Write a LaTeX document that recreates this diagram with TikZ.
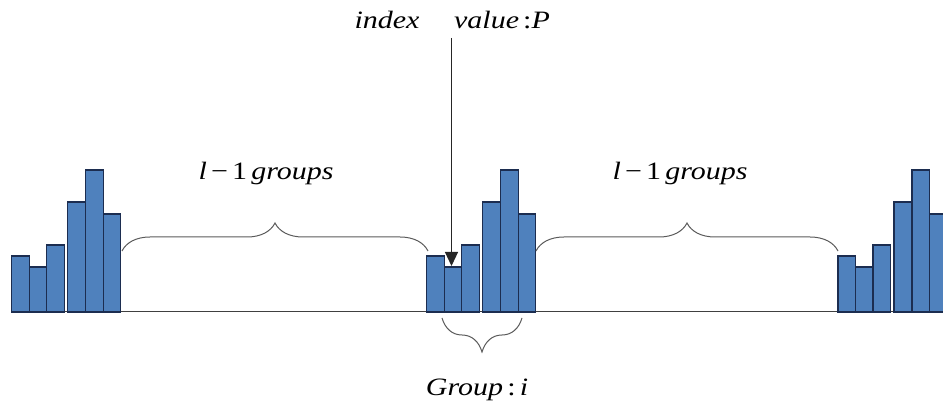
\documentclass[tikz,border=0pt]{standalone}
\usepackage{fontspec}
\setmainfont{Liberation Serif}[FakeStretch=1.2]
\usetikzlibrary{decorations.pathreplacing,arrows.meta}
\definecolor{barfill}{RGB}{79,129,189}
\definecolor{barline}{RGB}{28,45,80}
\definecolor{bracec}{RGB}{90,90,90}
\tikzset{
  bar/.style={fill=barfill,draw=barline,line width=1.1pt},
  bracestyle/.style={draw=bracec,line width=1pt,decorate,decoration={brace,amplitude=#1}},
  lbl/.style={font=\fontsize{25}{29}\selectfont\itshape,inner sep=0pt},
  axis/.style={draw=black!75,line width=1pt},
  ptr/.style={draw=black!85,line width=1.2pt,-{Triangle[length=14pt,width=13pt]}}
}
\begin{document}
\begin{tikzpicture}[x=1pt,y=-1pt]
\useasboundingbox (0,0) rectangle (943,419);
\draw[axis] (11,312) -- (943,312);
\foreach \g in {11.7,426.7,838}{
  \foreach \dx/\h in {0/256,17.5/267,35/245,56/202,74/170,91.5/214}{
    \draw[bar] (\g+\dx,312) rectangle (\g+\dx+17.5,\h);
  }
}
\coordinate (leftA) at (122,251);
\coordinate (leftB) at (428,251);
\coordinate (rightA) at (536,251);
\coordinate (rightB) at (838,251);
\coordinate (botA) at (522,318);
\coordinate (botB) at (442,318);
\draw[bracestyle=28pt] (leftA) -- (leftB);
\draw[bracestyle=28pt] (rightA) -- (rightB);
\draw[bracestyle=34pt] (botA) -- (botB);
\node[lbl] (lg) at (266,173) {l\,{\upshape −\,1}\,groups};
\node[lbl] (rg) at (680,173) {l\,{\upshape −\,1}\,groups};
\node[lbl] (idx) at (387,20) {index};
\node[lbl] (val) at (502,20) {value{\upshape\,:}P};
\node[lbl] (grp) at (477,390) {Group{\upshape\,:\,}i};
\coordinate (arrowstart) at (451.5,38);
\coordinate (ptarget) at (451.5,266);
\draw[ptr] (arrowstart) -- (ptarget);
\end{tikzpicture}
\end{document}
